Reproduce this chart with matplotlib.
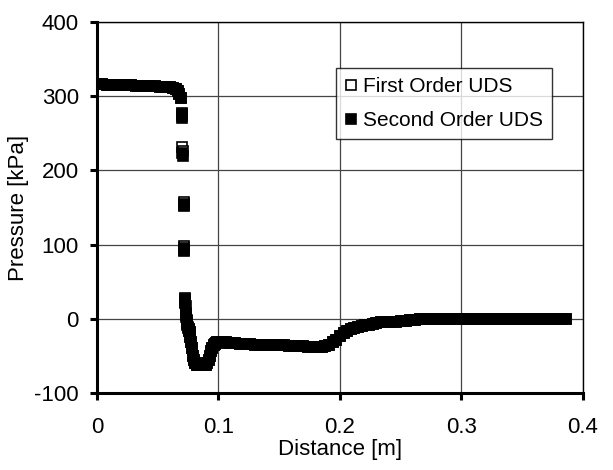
import matplotlib.pyplot as plt

plt.rcParams['font.family'] = ['Liberation Sans', 'DejaVu Sans']
plt.rcParams['axes.unicode_minus'] = False

# distance [m] and pressure [kPa], second order UDS
x_second = [0.000, 0.004, 0.008, 0.012, 0.016, 0.020, 0.024, 0.028, 0.032, 0.036,
            0.040, 0.044, 0.048, 0.052, 0.056, 0.060, 0.063, 0.065, 0.067, 0.068,
            0.0690, 0.0697, 0.0699, 0.0703, 0.0705, 0.0713, 0.0716, 0.0718, 0.0720,
            0.0722, 0.0725, 0.0730, 0.0735, 0.0740, 0.0745, 0.0750, 0.0755, 0.0760,
            0.0765, 0.0770, 0.0775, 0.0780, 0.0790, 0.0800, 0.0810, 0.0820, 0.0830,
            0.0840, 0.0850, 0.0860, 0.0870, 0.0880, 0.0890, 0.0900, 0.0910, 0.0920,
            0.0930, 0.0940, 0.0950, 0.0960, 0.0970, 0.0980, 0.0990, 0.1000, 0.1020,
            0.1040, 0.1060, 0.1080, 0.1100, 0.1140, 0.1180, 0.1220, 0.1260, 0.1300,
            0.1340, 0.1380, 0.1420, 0.1460, 0.1500, 0.1540, 0.1580, 0.1620, 0.1660,
            0.1700, 0.1740, 0.1780, 0.1820, 0.1850, 0.1880, 0.1910, 0.1940, 0.1970,
            0.2000, 0.2030, 0.2060, 0.2090, 0.2120, 0.2150, 0.2180, 0.2210, 0.2240,
            0.2270, 0.2300, 0.2340, 0.2380, 0.2420, 0.2460, 0.2500, 0.2540, 0.2580,
            0.2620, 0.2660, 0.2700, 0.2740, 0.2780, 0.2820, 0.2860, 0.2900, 0.2940,
            0.2980, 0.3020, 0.3060, 0.3100, 0.3140, 0.3180, 0.3220, 0.3260, 0.3300,
            0.3340, 0.3380, 0.3420, 0.3460, 0.3500, 0.3540, 0.3580, 0.3620, 0.3660,
            0.3700, 0.3740, 0.3780, 0.3820, 0.3860]
p_second = [316, 316, 315, 315, 315, 315, 315, 315, 314, 314,
            314, 314, 314, 313, 313, 312, 311, 310, 307, 303,
            297, 276, 271, 224, 220, 155, 152, 96, 92,
            26, 21, 8, 2, -3, -8, -12, -14, -16,
            -18, -24, -32, -40, -50, -56, -60, -62, -63,
            -63, -63, -63, -63, -63, -62, -62, -60, -56,
            -50, -44, -39, -36, -34, -33, -32, -32, -32,
            -32, -32, -33, -33, -33, -34, -34, -34, -35,
            -35, -35, -35, -36, -36, -36, -37, -37, -37,
            -37, -38, -38, -38, -38, -37, -35, -32, -28,
            -23, -19, -16, -14, -12, -11, -10, -9, -8,
            -7, -6, -5, -5, -4, -4, -3, -3, -2,
            -2, -1, -1, -1, 0, 0, 0, 0, 0,
            0, 0, 0, 0, 0, 0, 0, 0, 0,
            0, 0, 0, 0, 0, 0, 0, 0, 0,
            0, 0, 0, 0, 0]

# first order UDS, nearly identical except around the pressure drop
x_first = x_second
p_first = [316, 316, 315, 315, 315, 315, 315, 315, 314, 314,
           314, 314, 314, 313, 313, 312, 311, 310, 307, 303,
           297, 278, 273, 232, 226, 157, 153, 98, 93,
           28, 23, 17, 5, -2, -7, -11, -14, -16,
           -18, -24, -32, -40, -50, -56, -60, -62, -63,
           -63, -63, -63, -63, -63, -62, -62, -60, -56,
           -50, -44, -39, -36, -34, -33, -32, -32, -32,
           -32, -32, -33, -33, -33, -34, -34, -34, -35,
           -35, -35, -35, -36, -36, -36, -37, -37, -37,
           -37, -38, -38, -38, -38, -37, -35, -32, -28,
           -23, -19, -16, -14, -12, -11, -10, -9, -8,
           -7, -6, -5, -5, -4, -4, -3, -3, -2,
           -2, -1, -1, -1, 0, 0, 0, 0, 0,
           0, 0, 0, 0, 0, 0, 0, 0, 0,
           0, 0, 0, 0, 0, 0, 0, 0, 0,
           0, 0, 0, 0, 0]

x_ticks = [0, 0.1, 0.2, 0.3, 0.4]
x_tick_labels = ['0', '0.1', '0.2', '0.3', '0.4']
y_ticks = [-100, 0, 100, 200, 300, 400]

fig = plt.figure(figsize=(6.13, 4.70), dpi=100)
ax = fig.add_axes([0.158, 0.164, 0.793, 0.789])

ax.plot(x_first, p_first, linestyle='none', marker='s', markersize=7.5,
        markerfacecolor='white', markeredgecolor='black', markeredgewidth=1.2,
        label='First Order UDS', zorder=3)
ax.plot(x_second, p_second, linestyle='none', marker='s', markersize=7.5,
        markerfacecolor='black', markeredgecolor='black', markeredgewidth=1.2,
        label='Second Order UDS', zorder=4)

ax.set_xlim(0, 0.4)
ax.set_ylim(-100, 400)
ax.set_xticks(x_ticks)
ax.set_xticklabels(x_tick_labels)
ax.set_yticks(y_ticks)
ax.grid(True, color='#444444', linewidth=0.9)
ax.set_axisbelow(True)

for side in ['left', 'bottom']:
    ax.spines[side].set_linewidth(2.2)
for side in ['top', 'right']:
    ax.spines[side].set_linewidth(1.0)

ax.tick_params(axis='x', direction='out', length=5, width=2.2,
               labelsize=16, pad=12)
ax.tick_params(axis='y', direction='out', length=5, width=2.2,
               labelsize=16, pad=8)
ax.set_xlabel('Distance [m]', fontsize=16, labelpad=1)
ax.set_ylabel('Pressure [kPa]', fontsize=16, labelpad=4)

leg = ax.legend(loc='upper left', bbox_to_anchor=(0.492, 0.876), fontsize=15,
                frameon=True, fancybox=False, edgecolor='black',
                handletextpad=0.35, handlelength=0.5, borderpad=0.45,
                labelspacing=0.7, borderaxespad=0)
leg.get_frame().set_linewidth(1.0)

plt.savefig('out.png', dpi=100)
